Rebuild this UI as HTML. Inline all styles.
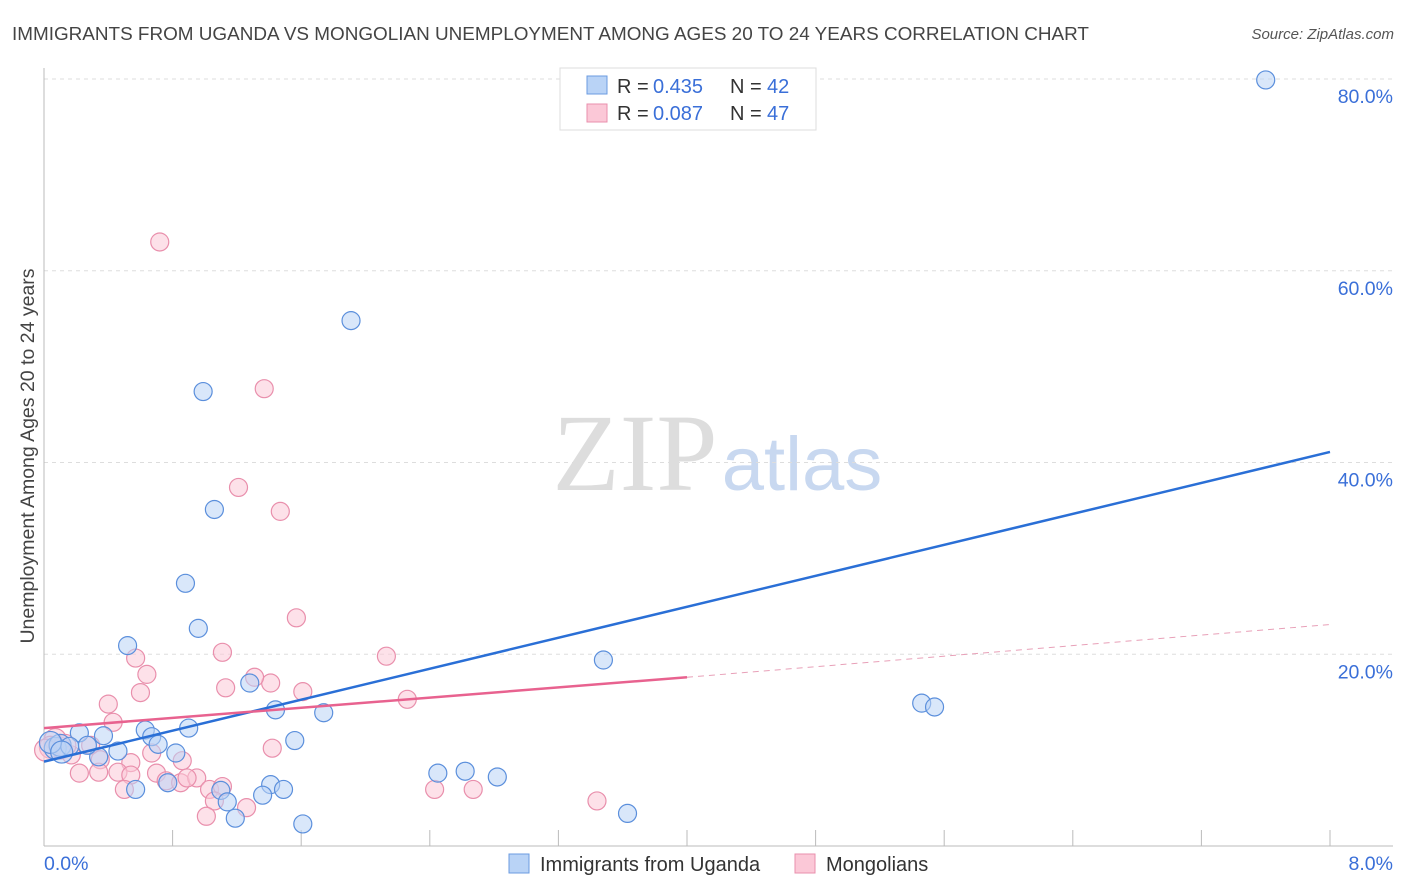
<!DOCTYPE html>
<html><head><meta charset="utf-8"><style>
body{margin:0;background:#fff;font-family:"Liberation Sans",sans-serif}
svg{display:block}
</style></head><body>
<svg id="c" width="1406" height="892" viewBox="0 0 1406 892">
<text x="12" y="40" font-size="18.9" fill="#444">IMMIGRANTS FROM UGANDA VS MONGOLIAN UNEMPLOYMENT AMONG AGES 20 TO 24 YEARS CORRELATION CHART</text>
<text x="1394" y="39" font-size="15" fill="#555" font-style="italic" text-anchor="end">Source: ZipAtlas.com</text>
<text x="635" y="490" font-size="110" fill="#ddd" font-family="Liberation Serif,serif" text-anchor="middle">ZIP</text>
<text x="802" y="490" font-size="76" fill="#c8d8f0" text-anchor="middle">atlas</text>
<g id="grid"></g><g id="axes"></g><g id="pts"></g><g id="lines"></g>
<text transform="translate(34,456) rotate(-90)" font-size="19.5" fill="#444" text-anchor="middle">Unemployment Among Ages 20 to 24 years</text>
<text x="44" y="870" font-size="19.5" fill="#3a6fd8">0.0%</text>
<text x="1393" y="870" font-size="19.5" fill="#3a6fd8" text-anchor="end">8.0%</text>
<g>
<rect x="560" y="68" width="256" height="62" fill="#fff" stroke="#ddd"/>
<rect x="587" y="76" width="20" height="18" fill="#b9d3f6" stroke="#6b9be0"/>
<rect x="587" y="104" width="20" height="18" fill="#fbc8d7" stroke="#e98fac"/>
<text x="617" y="93" font-size="20" fill="#333">R =</text><text x="653" y="93" font-size="20" fill="#3a6fd8">0.435</text>
<text x="730" y="93" font-size="20" fill="#333">N =</text><text x="767" y="93" font-size="20" fill="#3a6fd8">42</text>
<text x="617" y="120" font-size="20" fill="#333">R =</text><text x="653" y="120" font-size="20" fill="#3a6fd8">0.087</text>
<text x="730" y="120" font-size="20" fill="#333">N =</text><text x="767" y="120" font-size="20" fill="#3a6fd8">47</text>
</g>
<g>
<rect x="509" y="854" width="20" height="19" fill="#b9d3f6" stroke="#6b9be0"/>
<text x="540" y="871" font-size="20" fill="#333">Immigrants from Uganda</text>
<rect x="795" y="854" width="20" height="19" fill="#fbc8d7" stroke="#e98fac"/>
<text x="826" y="871" font-size="20" fill="#333">Mongolians</text>
</g>
</svg>
<script>
const blueX=[7.60,1.91,0.99,1.06,0.88,0.96,0.52,3.48,1.28,5.46,5.54,1.44,1.74,0.63,0.90,0.22,0.37,0.67,0.71,1.56,0.46,0.82,0.34,0.07,0.10,0.16,0.27,2.45,2.62,2.82,0.77,0.57,1.10,1.41,1.49,1.36,1.14,1.19,1.61,3.63,0.04,0.11];
const blueY=[79.9,54.8,47.4,35.1,27.4,22.7,20.9,19.4,17.0,14.9,14.5,14.2,13.9,12.1,12.3,11.8,11.5,11.4,10.6,11.0,9.9,9.7,9.3,10.2,10.5,10.4,10.5,7.6,7.8,7.2,6.6,5.9,5.8,6.4,5.9,5.3,4.6,2.9,2.3,3.4,10.8,9.8];
const pinkX=[0.72,1.37,1.21,1.47,1.57,1.11,0.57,2.13,0.64,0.60,1.13,1.41,1.31,1.61,2.26,0.40,0.43,0.07,0.10,0.17,0.29,0.35,0.54,0.22,0.34,0.46,0.54,0.67,0.86,0.70,0.76,0.85,0.95,0.89,1.03,1.11,1.06,1.26,1.01,0.50,2.43,2.67,3.44,1.42,0.04,0.13,0.01];
const pinkY=[63.0,47.7,37.4,34.9,23.8,20.2,19.6,19.8,17.9,16.0,16.5,17.0,17.6,16.1,15.3,14.8,12.9,11.1,10.2,9.5,10.5,9.0,8.7,7.6,7.7,7.7,7.4,9.7,8.9,7.6,6.8,6.6,7.1,7.1,5.9,6.2,4.7,4.0,3.1,5.9,5.9,5.9,4.7,10.2,10.3,10.5,10.0];
const yTicks=[20,40,60,80];
const yTickLabels=["20.0%","40.0%","60.0%","80.0%"];
const blueTrend=[8.8,41.1];
const pinkTrend=[12.3,17.6,23.1];
const NS="http://www.w3.org/2000/svg";
const X=v=>44+v/8*1286, Y=v=>846-v/80*767;
function mk(t,a,p){const e=document.createElementNS(NS,t);for(const k in a)e.setAttribute(k,a[k]);p.appendChild(e);return e;}
const grid=document.getElementById('grid'),axes=document.getElementById('axes'),pts=document.getElementById('pts'),lines=document.getElementById('lines');
yTicks.forEach((t,i)=>{
 const l=mk('line',{x1:44,x2:1393,y1:Y(t),y2:Y(t),stroke:'#ddd','stroke-dasharray':'4,4'},grid);
 
 
 const tx=mk('text',{x:1393,y:Y(t)+24,'font-size':19.5,fill:'#3a6fd8','text-anchor':'end'},grid);
 tx.textContent=yTickLabels[i];
 
 
});
const ya=mk('line',{x1:44,x2:44,y1:68,y2:846,stroke:'#bbb'},axes);


const xa=mk('line',{x1:44,x2:1393,y1:846,y2:846,stroke:'#bbb'},axes);


for(let i=1;i<=10;i++){const x=X(i*0.8);
 const tk=mk('line',{x1:x,x2:x,y1:830,y2:846,stroke:'#bbb'},axes);
 
 }
function dots(xs,ys,fill,stroke,name){xs.forEach((v,i)=>{
 const r=(v<0.15?11:9);
 const c=mk('circle',{cx:X(v),cy:Y(ys[i]),r:r,fill:fill,'fill-opacity':0.55,stroke:stroke,'stroke-width':1.2},pts);
 
 });}
dots(pinkX,pinkY,'#fbc8d7','#e98fac','mongolians-point');
dots(blueX,blueY,'#b9d3f6','#5b8fdc','uganda-point');
const bl=mk('line',{x1:X(0),y1:Y(blueTrend[0]),x2:X(8),y2:Y(blueTrend[1]),stroke:'#2a6fd6','stroke-width':2.5},lines);


const pl=mk('line',{x1:X(0),y1:Y(pinkTrend[0]),x2:X(4),y2:Y(pinkTrend[1]),stroke:'#e8628f','stroke-width':2.5},lines);


const pd=mk('line',{x1:X(4),y1:Y(pinkTrend[1]),x2:X(8),y2:Y(pinkTrend[2]),stroke:'#e8a0b8','stroke-width':1,'stroke-dasharray':'6,5'},lines);


</script>
</body></html>
